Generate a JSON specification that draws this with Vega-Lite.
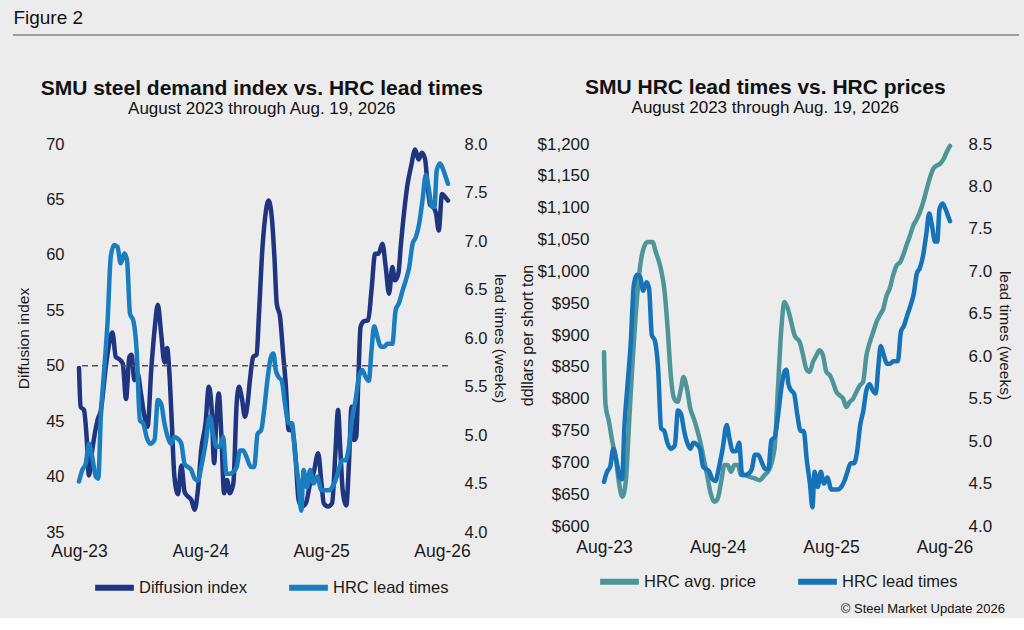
{
  "$schema": "https://vega.github.io/schema/vega-lite/v6.json",
  "description": "Figure 2: SMU steel demand index vs. HRC lead times, and HRC lead times vs. HRC prices",
  "background": "#ececec",
  "padding": {"left": 12, "top": 9, "right": 4, "bottom": 2},
  "datasets": {
    "diffusion": [
      {"date": "2023-08-01", "index": 49.8}, {"date": "2023-08-06", "index": 46.3}, {"date": "2023-08-16", "index": 46.0},
      {"date": "2023-08-24", "index": 43.6}, {"date": "2023-08-31", "index": 40.1}, {"date": "2023-09-10", "index": 42.4},
      {"date": "2023-09-26", "index": 45.1}, {"date": "2023-10-06", "index": 46.0}, {"date": "2023-10-21", "index": 49.9},
      {"date": "2023-10-31", "index": 52.0}, {"date": "2023-11-10", "index": 53.0}, {"date": "2023-11-20", "index": 50.8},
      {"date": "2023-11-30", "index": 50.6}, {"date": "2023-12-11", "index": 50.2}, {"date": "2023-12-21", "index": 47.0},
      {"date": "2023-12-31", "index": 50.8}, {"date": "2024-01-07", "index": 51.0}, {"date": "2024-01-15", "index": 48.7},
      {"date": "2024-01-25", "index": 49.3}, {"date": "2024-02-04", "index": 47.5}, {"date": "2024-02-14", "index": 45.5},
      {"date": "2024-02-24", "index": 44.5}, {"date": "2024-03-06", "index": 49.6}, {"date": "2024-03-16", "index": 53.2},
      {"date": "2024-03-26", "index": 55.5}, {"date": "2024-04-05", "index": 52.9}, {"date": "2024-04-15", "index": 50.3},
      {"date": "2024-04-23", "index": 51.6}, {"date": "2024-04-30", "index": 49.3}, {"date": "2024-05-07", "index": 45.0},
      {"date": "2024-05-15", "index": 40.0}, {"date": "2024-05-26", "index": 38.4}, {"date": "2024-06-05", "index": 41.0},
      {"date": "2024-06-15", "index": 38.6}, {"date": "2024-06-25", "index": 38.2}, {"date": "2024-07-05", "index": 37.9},
      {"date": "2024-07-15", "index": 37.0}, {"date": "2024-07-25", "index": 38.8}, {"date": "2024-08-04", "index": 42.4},
      {"date": "2024-08-17", "index": 44.8}, {"date": "2024-08-27", "index": 48.1}, {"date": "2024-09-04", "index": 46.3},
      {"date": "2024-09-12", "index": 41.2}, {"date": "2024-09-19", "index": 45.4}, {"date": "2024-09-26", "index": 47.5},
      {"date": "2024-10-04", "index": 43.6}, {"date": "2024-10-12", "index": 38.5}, {"date": "2024-10-21", "index": 39.7},
      {"date": "2024-10-29", "index": 38.5}, {"date": "2024-11-09", "index": 39.4}, {"date": "2024-11-19", "index": 46.6},
      {"date": "2024-11-26", "index": 48.1}, {"date": "2024-12-04", "index": 47.2}, {"date": "2024-12-14", "index": 45.4},
      {"date": "2024-12-22", "index": 46.6}, {"date": "2024-12-29", "index": 48.7}, {"date": "2025-01-08", "index": 50.8},
      {"date": "2025-01-18", "index": 51.0}, {"date": "2025-01-25", "index": 54.4}, {"date": "2025-02-03", "index": 59.8},
      {"date": "2025-02-13", "index": 63.4}, {"date": "2025-02-23", "index": 64.9}, {"date": "2025-03-05", "index": 63.4},
      {"date": "2025-03-13", "index": 59.8}, {"date": "2025-03-20", "index": 55.6}, {"date": "2025-03-30", "index": 54.4},
      {"date": "2025-04-09", "index": 50.8}, {"date": "2025-04-16", "index": 48.4}, {"date": "2025-04-25", "index": 44.2},
      {"date": "2025-05-05", "index": 44.2}, {"date": "2025-05-15", "index": 42.1}, {"date": "2025-05-25", "index": 37.9},
      {"date": "2025-06-04", "index": 37.3}, {"date": "2025-06-16", "index": 37.6}, {"date": "2025-06-29", "index": 39.4},
      {"date": "2025-07-09", "index": 40.3}, {"date": "2025-07-23", "index": 42.1}, {"date": "2025-08-02", "index": 39.4},
      {"date": "2025-08-09", "index": 37.6}, {"date": "2025-08-22", "index": 37.3}, {"date": "2025-09-03", "index": 37.6},
      {"date": "2025-09-13", "index": 42.1}, {"date": "2025-09-21", "index": 46.0}, {"date": "2025-09-28", "index": 42.4},
      {"date": "2025-10-05", "index": 38.8}, {"date": "2025-10-16", "index": 37.4}, {"date": "2025-10-24", "index": 41.2},
      {"date": "2025-11-01", "index": 46.3}, {"date": "2025-11-08", "index": 43.3}, {"date": "2025-11-15", "index": 43.6},
      {"date": "2025-11-21", "index": 48.4}, {"date": "2025-11-28", "index": 53.5}, {"date": "2025-12-08", "index": 54.0},
      {"date": "2025-12-21", "index": 54.1}, {"date": "2025-12-31", "index": 56.8}, {"date": "2026-01-11", "index": 60.1},
      {"date": "2026-01-21", "index": 60.1}, {"date": "2026-02-02", "index": 61.0}, {"date": "2026-02-12", "index": 58.9},
      {"date": "2026-02-22", "index": 56.5}, {"date": "2026-03-04", "index": 58.9}, {"date": "2026-03-12", "index": 57.7},
      {"date": "2026-03-22", "index": 58.3}, {"date": "2026-03-30", "index": 61.0}, {"date": "2026-04-09", "index": 64.0},
      {"date": "2026-04-19", "index": 66.4}, {"date": "2026-04-29", "index": 67.9}, {"date": "2026-05-12", "index": 69.5},
      {"date": "2026-05-22", "index": 68.6}, {"date": "2026-06-01", "index": 69.2}, {"date": "2026-06-11", "index": 68.6},
      {"date": "2026-06-18", "index": 66.4}, {"date": "2026-06-26", "index": 64.5}, {"date": "2026-07-06", "index": 64.3},
      {"date": "2026-07-14", "index": 63.7}, {"date": "2026-07-22", "index": 62.2}, {"date": "2026-08-01", "index": 65.5},
      {"date": "2026-08-11", "index": 65.2}, {"date": "2026-08-19", "index": 64.9}
    ],
    "leadtimes": [
      {"date": "2023-08-01", "weeks": 4.52}, {"date": "2023-08-11", "weeks": 4.64}, {"date": "2023-08-21", "weeks": 4.7},
      {"date": "2023-08-31", "weeks": 4.91}, {"date": "2023-09-10", "weeks": 4.77}, {"date": "2023-09-21", "weeks": 4.57},
      {"date": "2023-09-28", "weeks": 4.55}, {"date": "2023-10-06", "weeks": 5.19}, {"date": "2023-10-16", "weeks": 5.67},
      {"date": "2023-10-26", "weeks": 6.15}, {"date": "2023-11-05", "weeks": 6.84}, {"date": "2023-11-15", "weeks": 6.96},
      {"date": "2023-11-25", "weeks": 6.94}, {"date": "2023-12-05", "weeks": 6.77}, {"date": "2023-12-16", "weeks": 6.87},
      {"date": "2023-12-24", "weeks": 6.8}, {"date": "2024-01-02", "weeks": 6.25}, {"date": "2024-01-12", "weeks": 6.18},
      {"date": "2024-01-22", "weeks": 5.87}, {"date": "2024-02-01", "weeks": 5.15}, {"date": "2024-02-11", "weeks": 5.12},
      {"date": "2024-02-21", "weeks": 4.98}, {"date": "2024-03-03", "weeks": 4.91}, {"date": "2024-03-16", "weeks": 4.95},
      {"date": "2024-03-26", "weeks": 5.36}, {"date": "2024-04-05", "weeks": 5.32}, {"date": "2024-04-15", "weeks": 5.12},
      {"date": "2024-04-25", "weeks": 4.98}, {"date": "2024-05-05", "weeks": 4.91}, {"date": "2024-05-15", "weeks": 4.98},
      {"date": "2024-05-26", "weeks": 4.96}, {"date": "2024-06-05", "weeks": 4.91}, {"date": "2024-06-15", "weeks": 4.7},
      {"date": "2024-06-25", "weeks": 4.67}, {"date": "2024-07-05", "weeks": 4.64}, {"date": "2024-07-15", "weeks": 4.55},
      {"date": "2024-07-25", "weeks": 4.53}, {"date": "2024-08-04", "weeks": 4.67}, {"date": "2024-08-17", "weeks": 4.91},
      {"date": "2024-08-30", "weeks": 5.19}, {"date": "2024-09-09", "weeks": 5.01}, {"date": "2024-09-19", "weeks": 4.88},
      {"date": "2024-09-29", "weeks": 4.88}, {"date": "2024-10-09", "weeks": 4.98}, {"date": "2024-10-19", "weeks": 4.6},
      {"date": "2024-10-29", "weeks": 4.6}, {"date": "2024-11-09", "weeks": 4.62}, {"date": "2024-11-19", "weeks": 4.67},
      {"date": "2024-11-29", "weeks": 4.84}, {"date": "2024-12-09", "weeks": 4.84}, {"date": "2024-12-19", "weeks": 4.77},
      {"date": "2025-01-01", "weeks": 4.67}, {"date": "2025-01-11", "weeks": 4.67}, {"date": "2025-01-21", "weeks": 5.01},
      {"date": "2025-02-01", "weeks": 5.05}, {"date": "2025-02-11", "weeks": 5.29}, {"date": "2025-02-21", "weeks": 5.6},
      {"date": "2025-03-03", "weeks": 5.81}, {"date": "2025-03-10", "weeks": 5.84}, {"date": "2025-03-17", "weeks": 5.67},
      {"date": "2025-03-25", "weeks": 5.6}, {"date": "2025-04-04", "weeks": 5.56}, {"date": "2025-04-14", "weeks": 5.32},
      {"date": "2025-04-25", "weeks": 5.12}, {"date": "2025-05-05", "weeks": 5.12}, {"date": "2025-05-15", "weeks": 4.77},
      {"date": "2025-05-25", "weeks": 4.5}, {"date": "2025-06-02", "weeks": 4.22}, {"date": "2025-06-09", "weeks": 4.64},
      {"date": "2025-06-19", "weeks": 4.46}, {"date": "2025-06-29", "weeks": 4.64}, {"date": "2025-07-09", "weeks": 4.5},
      {"date": "2025-07-20", "weeks": 4.57}, {"date": "2025-08-02", "weeks": 4.43}, {"date": "2025-08-14", "weeks": 4.43},
      {"date": "2025-08-24", "weeks": 4.43}, {"date": "2025-09-03", "weeks": 4.46}, {"date": "2025-09-13", "weeks": 4.53},
      {"date": "2025-09-23", "weeks": 4.64}, {"date": "2025-10-03", "weeks": 4.74}, {"date": "2025-10-14", "weeks": 4.74},
      {"date": "2025-10-24", "weeks": 4.88}, {"date": "2025-11-03", "weeks": 5.19}, {"date": "2025-11-13", "weeks": 5.36},
      {"date": "2025-11-23", "weeks": 5.6}, {"date": "2025-12-03", "weeks": 5.67}, {"date": "2025-12-13", "weeks": 5.6},
      {"date": "2025-12-23", "weeks": 5.56}, {"date": "2025-12-31", "weeks": 5.87}, {"date": "2026-01-08", "weeks": 6.12},
      {"date": "2026-01-18", "weeks": 6.01}, {"date": "2026-01-28", "weeks": 5.91}, {"date": "2026-02-07", "weeks": 5.91},
      {"date": "2026-02-17", "weeks": 5.94}, {"date": "2026-03-04", "weeks": 5.94}, {"date": "2026-03-14", "weeks": 6.29},
      {"date": "2026-03-24", "weeks": 6.36}, {"date": "2026-04-04", "weeks": 6.49}, {"date": "2026-04-14", "weeks": 6.6},
      {"date": "2026-04-24", "weeks": 6.73}, {"date": "2026-05-04", "weeks": 6.97}, {"date": "2026-05-14", "weeks": 7.04},
      {"date": "2026-05-24", "weeks": 7.18}, {"date": "2026-06-03", "weeks": 7.42}, {"date": "2026-06-13", "weeks": 7.68},
      {"date": "2026-06-21", "weeks": 7.56}, {"date": "2026-07-02", "weeks": 7.35}, {"date": "2026-07-09", "weeks": 7.35},
      {"date": "2026-07-16", "weeks": 7.73}, {"date": "2026-07-26", "weeks": 7.8}, {"date": "2026-08-05", "weeks": 7.73},
      {"date": "2026-08-15", "weeks": 7.63}, {"date": "2026-08-19", "weeks": 7.59}
    ],
    "price": [
      {"date": "2023-08-01", "price": 873}, {"date": "2023-08-06", "price": 790}, {"date": "2023-08-17", "price": 764},
      {"date": "2023-08-28", "price": 732}, {"date": "2023-09-08", "price": 706}, {"date": "2023-09-18", "price": 669},
      {"date": "2023-09-29", "price": 646}, {"date": "2023-10-10", "price": 669}, {"date": "2023-10-21", "price": 764},
      {"date": "2023-11-01", "price": 858}, {"date": "2023-11-11", "price": 931}, {"date": "2023-11-22", "price": 994},
      {"date": "2023-12-03", "price": 1030}, {"date": "2023-12-19", "price": 1046}, {"date": "2024-01-04", "price": 1046},
      {"date": "2024-01-15", "price": 1030}, {"date": "2024-01-31", "price": 1004}, {"date": "2024-02-11", "price": 973},
      {"date": "2024-02-22", "price": 910}, {"date": "2024-03-03", "price": 837}, {"date": "2024-03-14", "price": 800},
      {"date": "2024-03-25", "price": 795}, {"date": "2024-04-05", "price": 816}, {"date": "2024-04-13", "price": 834},
      {"date": "2024-04-24", "price": 816}, {"date": "2024-05-05", "price": 784}, {"date": "2024-05-16", "price": 769},
      {"date": "2024-05-26", "price": 753}, {"date": "2024-06-06", "price": 732}, {"date": "2024-06-17", "price": 706},
      {"date": "2024-06-28", "price": 680}, {"date": "2024-07-08", "price": 654}, {"date": "2024-07-21", "price": 638},
      {"date": "2024-08-01", "price": 643}, {"date": "2024-08-12", "price": 669}, {"date": "2024-08-23", "price": 696},
      {"date": "2024-09-02", "price": 696}, {"date": "2024-09-13", "price": 685}, {"date": "2024-09-24", "price": 696},
      {"date": "2024-10-05", "price": 696}, {"date": "2024-10-15", "price": 680}, {"date": "2024-10-26", "price": 680},
      {"date": "2024-11-11", "price": 677}, {"date": "2024-11-27", "price": 675}, {"date": "2024-12-14", "price": 672},
      {"date": "2024-12-30", "price": 680}, {"date": "2025-01-15", "price": 690}, {"date": "2025-01-31", "price": 722},
      {"date": "2025-02-11", "price": 816}, {"date": "2025-02-22", "price": 910}, {"date": "2025-03-04", "price": 952},
      {"date": "2025-03-15", "price": 941}, {"date": "2025-03-26", "price": 920}, {"date": "2025-04-06", "price": 899},
      {"date": "2025-04-22", "price": 889}, {"date": "2025-05-03", "price": 868}, {"date": "2025-05-13", "price": 847},
      {"date": "2025-05-24", "price": 842}, {"date": "2025-06-04", "price": 858}, {"date": "2025-06-15", "price": 868},
      {"date": "2025-06-25", "price": 876}, {"date": "2025-07-06", "price": 868}, {"date": "2025-07-17", "price": 842},
      {"date": "2025-07-28", "price": 837}, {"date": "2025-08-07", "price": 826}, {"date": "2025-08-18", "price": 811},
      {"date": "2025-08-29", "price": 805}, {"date": "2025-09-09", "price": 800}, {"date": "2025-09-19", "price": 787},
      {"date": "2025-09-30", "price": 795}, {"date": "2025-10-11", "price": 800}, {"date": "2025-10-22", "price": 811},
      {"date": "2025-11-02", "price": 821}, {"date": "2025-11-12", "price": 826}, {"date": "2025-11-23", "price": 868},
      {"date": "2025-12-04", "price": 889}, {"date": "2025-12-15", "price": 905}, {"date": "2025-12-25", "price": 920},
      {"date": "2026-01-05", "price": 931}, {"date": "2026-01-16", "price": 941}, {"date": "2026-01-27", "price": 962},
      {"date": "2026-02-06", "price": 973}, {"date": "2026-02-17", "price": 994}, {"date": "2026-02-28", "price": 1009},
      {"date": "2026-03-11", "price": 1014}, {"date": "2026-03-21", "price": 1025}, {"date": "2026-04-01", "price": 1041},
      {"date": "2026-04-12", "price": 1056}, {"date": "2026-04-23", "price": 1072}, {"date": "2026-05-04", "price": 1082},
      {"date": "2026-05-14", "price": 1093}, {"date": "2026-05-25", "price": 1109}, {"date": "2026-06-05", "price": 1129},
      {"date": "2026-06-16", "price": 1148}, {"date": "2026-06-26", "price": 1161}, {"date": "2026-07-07", "price": 1166},
      {"date": "2026-07-18", "price": 1169}, {"date": "2026-07-29", "price": 1176}, {"date": "2026-08-08", "price": 1187},
      {"date": "2026-08-19", "price": 1197}
    ]
  },
  "vconcat": [
    {
      "data": {"values": [{}]},
      "width": 940,
      "height": 42,
      "title": {"text": "Figure 2", "anchor": "start", "fontSize": 19, "fontWeight": "normal", "offset": 6, "dx": 1},
      "mark": {"type": "rule", "color": "#555555", "strokeWidth": 1.2},
      "encoding": {
        "x": {"datum": -0.0702, "type": "quantitative", "scale": {"domain": [0, 1]}, "axis": null},
        "x2": {"datum": 1},
        "y": {"datum": 1, "type": "quantitative", "scale": {"domain": [0, 1]}, "axis": null}
      }
    },
    {
      "hconcat": [
        {
          "width": 369,
          "height": 388,
          "title": {
            "text": "SMU steel demand index vs. HRC lead times",
            "subtitle": "August 2023 through Aug. 19, 2026",
            "anchor": "middle",
            "frame": "bounds",
            "offset": 19
          },
          "layer": [
            {
              "layer": [
                {
                  "data": {"name": "diffusion"},
                  "mark": {"type": "line", "strokeWidth": 4.5, "interpolate": "monotone", "strokeCap": "round"},
                  "encoding": {
                    "x": {
                      "field": "date", "type": "temporal",
                      "scale": {"type": "utc", "domain": [{"year": 2023, "month": 8, "date": 1, "utc": true}, {"year": 2026, "month": 8, "date": 19, "utc": true}]},
                      "axis": {
                        "title": null, "format": "%b-%y", "labelFontSize": 17.5, "labelPadding": 10, "labelFlush": false, "labelOverlap": false,
                        "values": [
                          {"year": 2023, "month": 8, "date": 1, "utc": true},
                          {"year": 2024, "month": 8, "date": 1, "utc": true},
                          {"year": 2025, "month": 8, "date": 1, "utc": true},
                          {"year": 2026, "month": 8, "date": 1, "utc": true}
                        ]
                      }
                    },
                    "y": {
                      "field": "index", "type": "quantitative",
                      "scale": {"domain": [35, 70], "nice": false, "zero": false},
                      "axis": {"title": "Diffusion index", "values": [35, 40, 45, 50, 55, 60, 65, 70], "labelFontSize": 16.5, "labelPadding": 15, "titleFontSize": 15.5, "titlePadding": 14}
                    },
                    "color": {
                      "datum": "Diffusion index", "type": "nominal",
                      "scale": {"domain": ["Diffusion index", "HRC lead times"], "range": ["#1f3580", "#1a7dc0"]},
                      "legend": {"title": null, "orient": "none", "direction": "horizontal", "legendX": 13, "legendY": 421}
                    }
                  }
                },
                {
                  "data": {"values": [{}]},
                  "mark": {"type": "rule", "color": "#555555", "strokeWidth": 1.5, "strokeDash": [6, 4]},
                  "encoding": {"y": {"datum": 50, "type": "quantitative"}}
                }
              ]
            },
            {
              "data": {"name": "leadtimes"},
              "mark": {"type": "line", "strokeWidth": 4.5, "interpolate": "monotone", "strokeCap": "round"},
              "encoding": {
                "x": {"field": "date", "type": "temporal"},
                "y": {
                  "field": "weeks", "type": "quantitative",
                  "scale": {"domain": [4, 8], "nice": false, "zero": false},
                  "axis": {"orient": "right", "title": "lead times (weeks)", "format": ".1f", "values": [4, 4.5, 5, 5.5, 6, 6.5, 7, 7.5, 8], "labelFontSize": 16.5, "labelPadding": 16, "titleFontSize": 15.5, "titlePadding": 5}
                },
                "color": {"datum": "HRC lead times", "type": "nominal"}
              }
            }
          ],
          "resolve": {"scale": {"y": "independent"}}
        },
        {
          "width": 346,
          "height": 382,
          "title": {
            "text": "SMU HRC lead times vs. HRC prices",
            "subtitle": "August 2023 through Aug. 19, 2026",
            "anchor": "middle",
            "frame": "bounds",
            "offset": 19
          },
          "layer": [
            {
              "data": {"name": "price"},
              "mark": {"type": "line", "strokeWidth": 4.5, "interpolate": "monotone", "strokeCap": "round"},
              "encoding": {
                "x": {
                  "field": "date", "type": "temporal",
                  "scale": {"type": "utc", "domain": [{"year": 2023, "month": 8, "date": 1, "utc": true}, {"year": 2026, "month": 8, "date": 19, "utc": true}]},
                  "axis": {
                    "title": null, "format": "%b-%y", "labelFontSize": 17.5, "labelPadding": 12, "labelFlush": false, "labelOverlap": false,
                    "values": [
                      {"year": 2023, "month": 8, "date": 1, "utc": true},
                      {"year": 2024, "month": 8, "date": 1, "utc": true},
                      {"year": 2025, "month": 8, "date": 1, "utc": true},
                      {"year": 2026, "month": 8, "date": 1, "utc": true}
                    ]
                  }
                },
                "y": {
                  "field": "price", "type": "quantitative",
                  "scale": {"domain": [600, 1200], "nice": false, "zero": false},
                  "axis": {"title": "ddllars per short ton", "format": "$,.0f", "values": [600, 650, 700, 750, 800, 850, 900, 950, 1000, 1050, 1100, 1150, 1200], "labelFontSize": 17, "labelPadding": 15, "titleFontSize": 16, "titlePadding": 2}
                },
                "color": {
                  "datum": "HRC avg. price", "type": "nominal",
                  "scale": {"domain": ["HRC avg. price", "HRC lead times"], "range": ["#4e9599", "#1673b8"]},
                  "legend": {"title": null, "orient": "none", "direction": "horizontal", "legendX": -7, "legendY": 415}
                }
              }
            },
            {
              "data": {"name": "leadtimes"},
              "mark": {"type": "line", "strokeWidth": 4.5, "interpolate": "monotone", "strokeCap": "round"},
              "encoding": {
                "x": {"field": "date", "type": "temporal"},
                "y": {
                  "field": "weeks", "type": "quantitative",
                  "scale": {"domain": [4, 8.5], "nice": false, "zero": false},
                  "axis": {"orient": "right", "title": "lead times (weeks)", "format": ".1f", "values": [4, 4.5, 5, 5.5, 6, 6.5, 7, 7.5, 8, 8.5], "labelFontSize": 17, "labelPadding": 18, "titleFontSize": 15.5, "titlePadding": 5}
                },
                "color": {"datum": "HRC lead times", "type": "nominal"}
              }
            }
          ],
          "resolve": {"scale": {"y": "independent"}}
        }
      ],
      "spacing": 12,
      "resolve": {"scale": {"color": "independent"}}
    },
    {
      "data": {"values": []},
      "width": 926,
      "height": 1,
      "title": {"text": "© Steel Market Update 2026", "orient": "bottom", "anchor": "end", "fontSize": 13, "fontWeight": "normal", "offset": 2},
      "mark": {"type": "rule"},
      "encoding": {}
    }
  ],
  "spacing": 0,
  "config": {
    "font": "Liberation Sans",
    "view": {"stroke": null},
    "axis": {
      "domain": false,
      "ticks": false,
      "grid": false,
      "labelColor": "#1a1a1a",
      "titleColor": "#1a1a1a",
      "titleFontWeight": "normal"
    },
    "title": {"color": "#111111", "fontSize": 21, "fontWeight": "bold", "subtitleColor": "#111111", "subtitleFontSize": 17, "subtitlePadding": 2},
    "legend": {
      "symbolType": "stroke",
      "symbolSize": 1500,
      "symbolStrokeWidth": 6,
      "labelFontSize": 16.5,
      "labelColor": "#1a1a1a",
      "labelOffset": 2,
      "columnPadding": 30
    }
  }
}
